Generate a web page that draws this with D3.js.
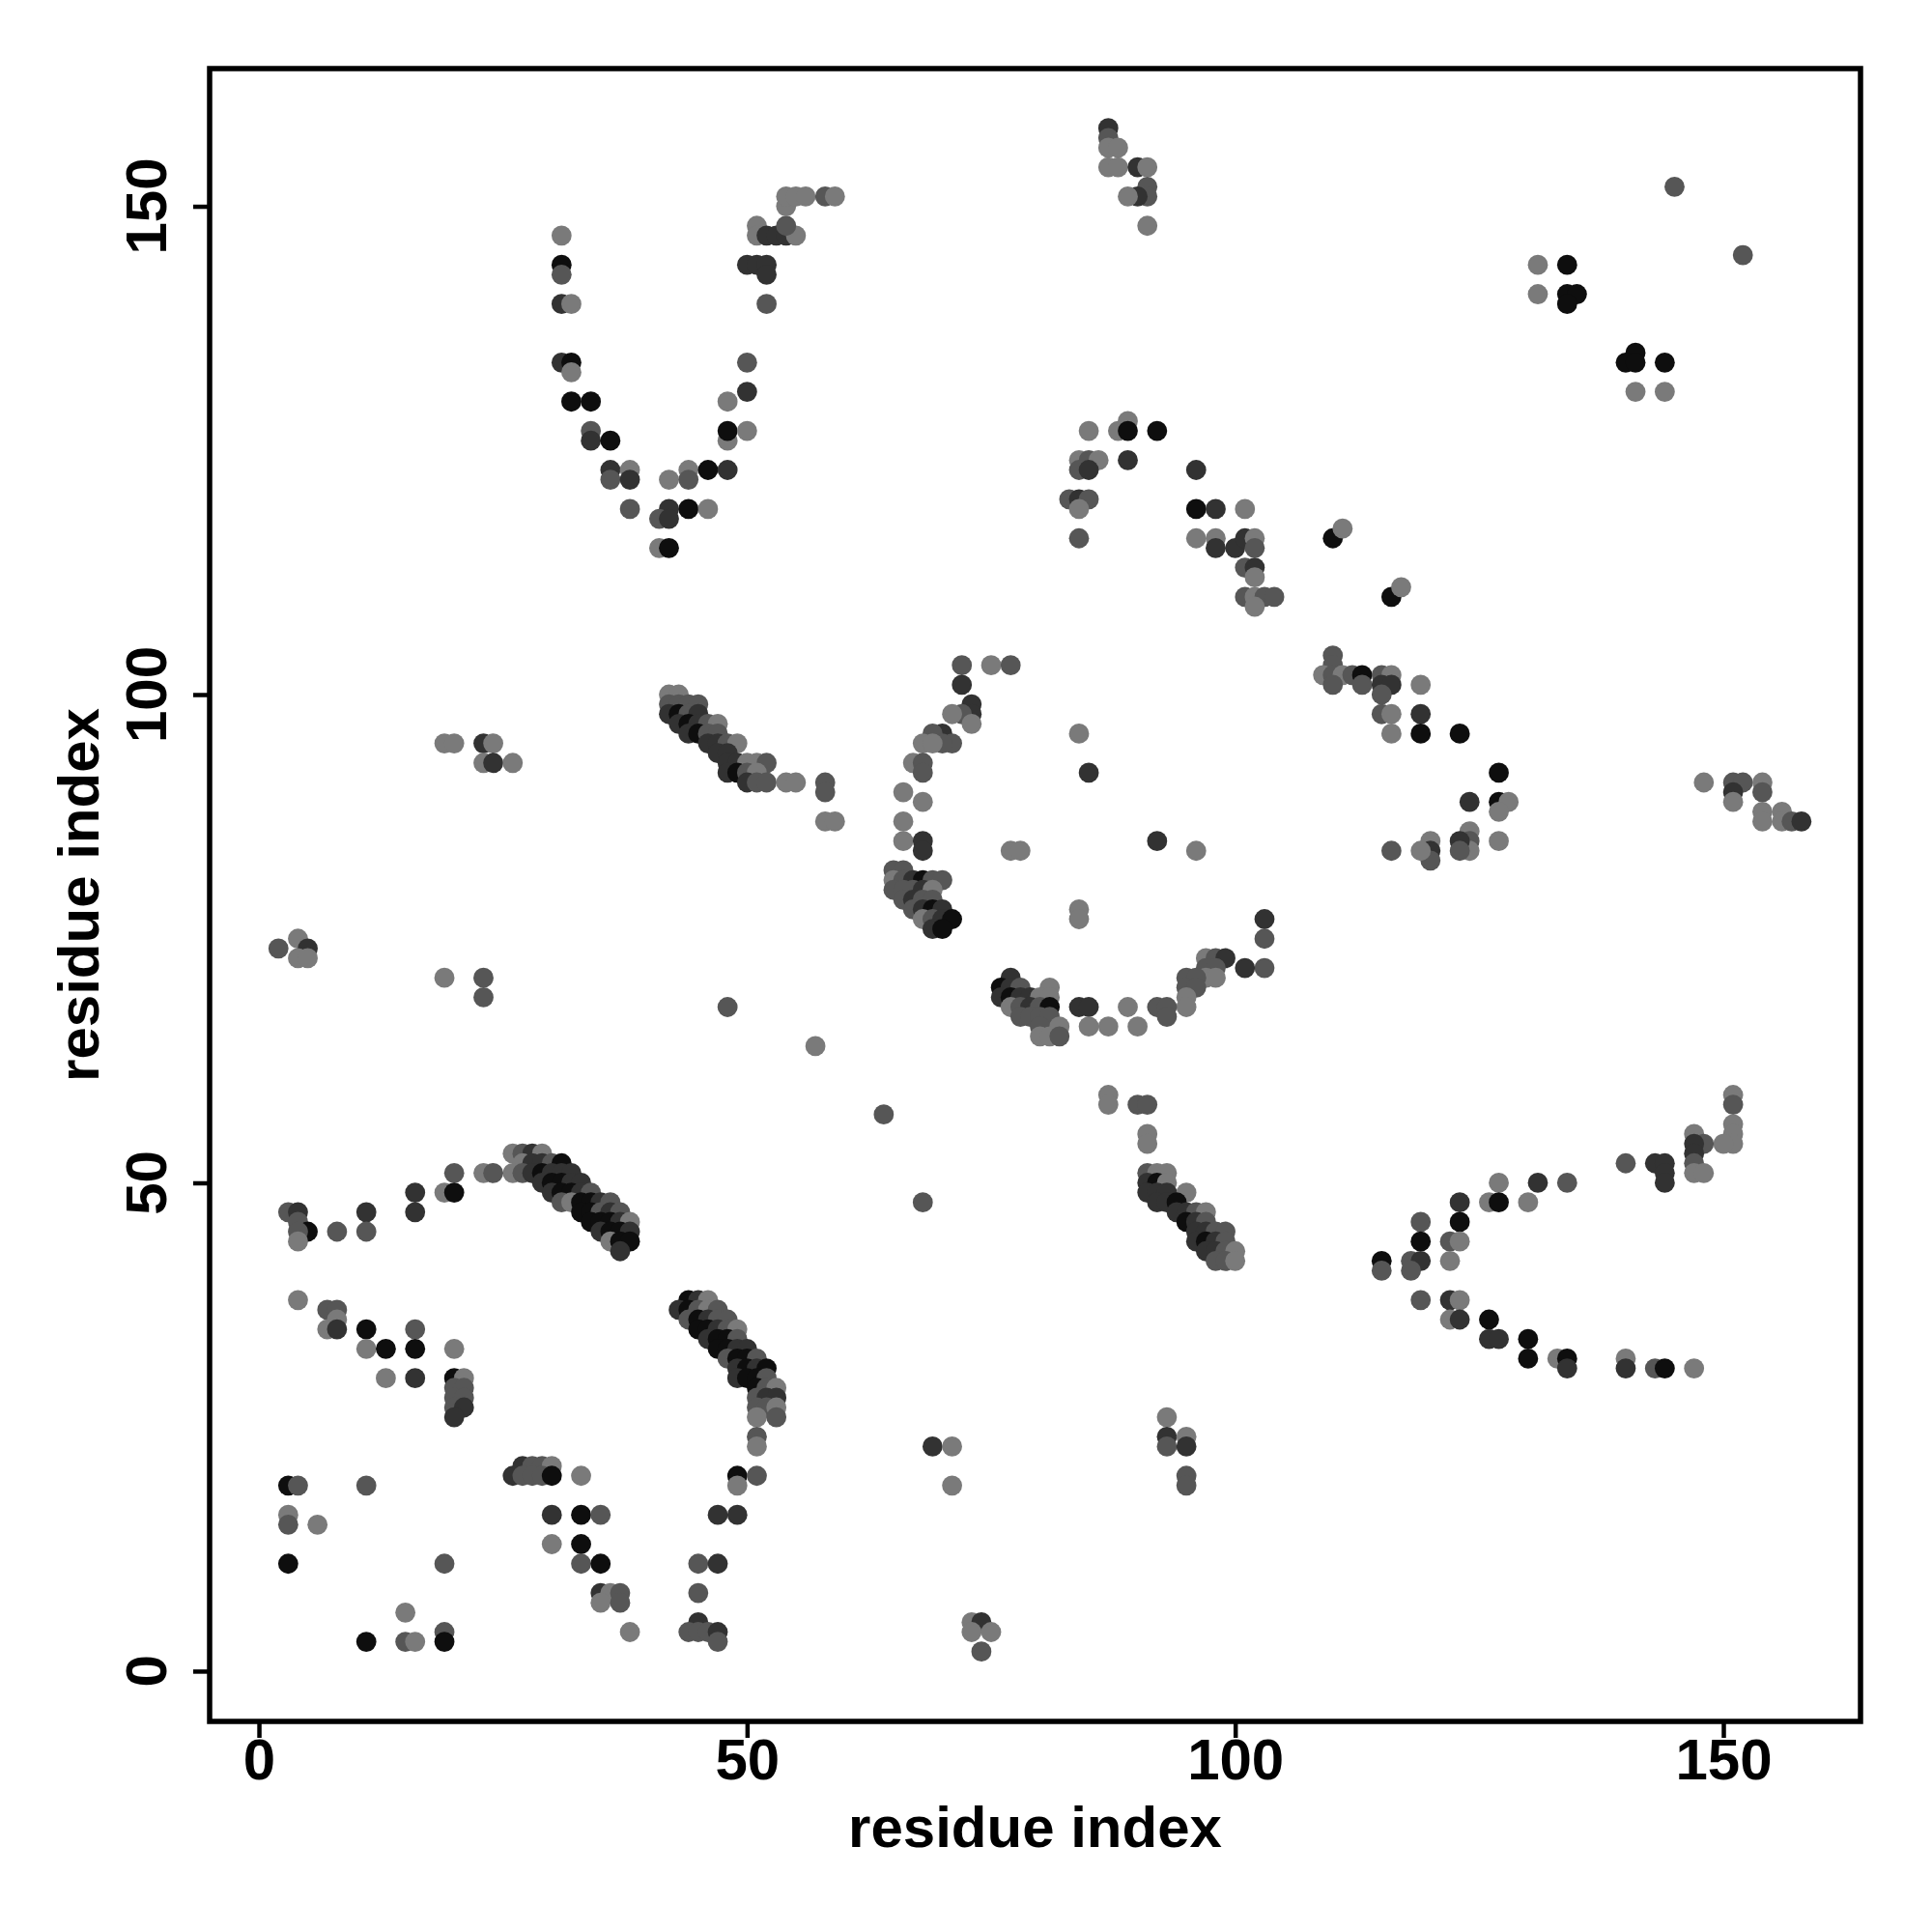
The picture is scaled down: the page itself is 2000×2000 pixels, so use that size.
<!DOCTYPE html>
<html>
<head>
<meta charset="utf-8">
<script src="https://cdn.jsdelivr.net/npm/d3@7"></script>
<style>
  html, body { margin: 0; padding: 0; background: #ffffff; }
  svg { display: block; }
</style>
</head>
<body>
<svg id="chart" width="2000" height="2000"></svg>
<script>
// ---- data: [residue i, residue j, confidence level 1 (light) .. 4 (black)] ----
const xTicks = [0, 50, 100, 150];
const yTicks = [0, 50, 100, 150];
const xTitle = "residue index";
const yTitle = "residue index";

const leftU = [
  [31,147,1],[31,144,4],[31,143,2],[31,140,3],[32,140,1],[31,134,3],[32,134,4],[32,133,1],
  [32,130,4],[34,130,4],[34,127,2],[34,126,3],[36,126,4],[36,123,3],[38,123,1],[36,122,2],
  [38,122,3],[42,122,1],[44,123,1],[44,122,2],[46,123,4],[48,123,3],[38,119,2],[42,119,3],
  [44,119,4],[46,119,1],[41,118,2],[42,118,3],[41,115,1],[42,115,4],[48,126,1],[48,127,4],
  [50,127,1],[48,130,1],[50,131,3],[50,134,2],[52,140,2],[50,144,3],[51,144,3],[52,144,3],
  [52,143,3],[51,148,1],[51,147,1],[52,147,3],[53,147,3],[54,147,3],[55,147,1],[54,148,2],
  [54,150,1],[54,151,1],[55,151,1],[56,151,1],[58,151,2],[59,151,1]
];

const topMid = [
  [87,158,3],[87,157,2],[87,156,1],[88,156,1],[87,154,1],[88,154,1],[90,154,3],[91,154,1],
  [91,152,2],[91,151,2],[90,151,3],[89,151,1],[91,148,1],
  [85,127,1],[88,127,1],[89,128,1],[89,127,4],[92,127,4],[84,124,1],[85,124,2],[86,124,1],
  [84,123,2],[85,123,3],[89,124,3],[96,123,3],[83,120,2],[84,120,3],[85,120,2],[84,119,1],
  [84,116,2],[96,119,4],[98,119,3],[101,119,1],[96,116,1],[98,116,1],[98,115,3],[100,115,3],
  [101,116,3],[102,116,1],[102,115,2],[101,113,2],[102,113,3],[102,112,1],[101,110,2],
  [102,110,1],[103,110,2],[104,110,2],[102,109,1]
];

const topRight = [
  [145,152,2],[152,145,2],[131,144,1],[134,144,4],[131,141,1],[134,141,4],[135,141,4],
  [134,140,4],[141,135,4],[140,134,4],[141,134,4],[144,134,4],[141,131,1],[144,131,1],
  [110,116,4],[111,117,1],[116,110,4],[117,111,1]
];

const rightMid = [
  [110,104,2],[110,103,2],[109,102,1],[110,102,2],[111,102,1],[112,102,2],[113,102,4],
  [110,101,2],[113,101,2],[115,102,2],[116,102,1],[115,101,3],[116,101,3],[115,100,2],
  [119,101,1],[115,98,2],[116,98,1],[119,98,3],[116,96,1],[119,96,4],[123,96,4],[127,92,4],
  [124,89,3],[127,89,4],[128,89,1],[127,88,1],[127,85,1],[124,86,1],[124,85,2],[124,84,1],
  [123,85,3],[123,84,2],[120,85,1],[120,84,3],[120,83,2],[119,84,1],[116,84,2],
  [148,91,1],[151,91,2],[152,91,2],[154,91,1],[151,90,3],[151,89,1],[154,90,2],[154,88,1],
  [154,87,1],[156,88,1],[156,87,1],[157,87,2],[158,87,3]
];

const midArcUpper = [
  [72,103,2],[75,103,1],[77,103,2],[72,101,3],[73,99,3],[73,98,3],[72,98,2],[71,98,1],
  [73,97,1],[70,96,3],[69,96,2],[71,95,2],[70,95,2],[68,95,1],[69,95,1],[67,93,1],[68,93,2],
  [68,92,2],[66,90,1],[68,89,1],[66,87,1],[66,85,1],[68,85,3],[68,84,3],[77,84,1],[78,84,1],
  [84,96,1],[85,92,3],[92,85,3],[96,84,1]
];

const midArcLeft = [
  [65,82,2],[66,82,2],[65,81,1],[66,81,2],[67,81,3],[68,81,4],[69,81,2],[70,81,2],
  [65,80,2],[66,80,2],[67,80,2],[68,80,3],[69,80,1],[66,79,2],[67,79,3],[68,79,2],[69,79,2],
  [67,78,2],[68,78,3],[69,78,4],[70,78,3],[68,77,1],[69,77,2],[70,77,3],[71,77,4],
  [69,76,3],[70,76,4]
];

const midArcLower = [
  [84,78,1],[84,77,1],[103,77,3],[103,75,2],[103,72,2],[101,72,3],[97,73,1],[98,73,2],
  [99,73,3],[97,72,2],[98,72,2],[97,71,1],[98,71,1],[95,71,2],[96,71,2],[95,70,2],[96,70,2],
  [95,69,1],[95,68,1],[92,68,2],[93,68,2],[93,67,2],[89,68,1],[90,66,1],[84,68,3],[85,68,3],
  [85,66,1],[87,66,1],
  [77,71,3],[76,70,4],[77,70,3],[78,70,2],[81,70,1],[76,69,3],[77,69,4],[78,69,3],[79,69,3],
  [80,69,1],[81,69,1],[77,68,1],[78,68,2],[79,68,3],[80,68,2],[81,68,4],[78,67,2],[79,67,2],
  [80,67,2],[81,67,2],[80,66,2],[82,66,1],[80,65,1],[81,65,1],[82,65,2]
];

const strandA = [ // 42-52 x 91-100
  [42,100,1],[43,100,1],[42,99,2],[43,99,2],[44,99,2],[45,99,2],[42,98,3],[43,98,4],[44,98,2],
  [45,98,3],[43,97,3],[44,97,4],[45,97,3],[46,97,2],[47,97,1],[44,96,3],[45,96,4],[46,96,2],
  [47,96,2],[46,95,3],[47,95,3],[48,95,2],[49,95,1],[47,94,3],[48,94,3],[48,93,3],[49,93,3],
  [50,93,1],[51,93,1],[52,93,2],[48,92,3],[49,92,4],[50,92,2],[51,92,1],[50,91,3],[51,91,2],
  [52,91,2],[54,91,1],[55,91,1],[58,91,2],[58,90,2],[58,87,1],[59,87,1]
];

const strandB = [ // 91-100 x 42-51
  [91,51,2],[92,51,1],[93,51,1],[91,50,3],[92,50,4],[93,50,1],[91,49,3],[92,49,3],[93,49,3],
  [95,49,1],[92,48,3],[93,48,3],[94,48,4],[94,47,3],[95,47,3],[96,47,2],[97,47,1],[95,46,4],
  [96,46,3],[97,46,2],[96,45,3],[97,45,3],[98,45,2],[99,45,2],[96,44,3],[97,44,4],[98,44,3],
  [99,44,2],[97,43,3],[98,43,3],[99,43,2],[100,43,1],[98,42,2],[99,42,2],[100,42,1],
  [87,59,1],[87,58,1],[90,58,2],[91,58,2],[91,55,1],[91,54,1]
];

const strandC = [ // 26-38 x 43-53
  [26,53,1],[27,53,2],[28,53,3],[29,53,1],[27,52,1],[28,52,3],[29,52,3],[30,52,2],[31,52,4],
  [26,51,1],[27,51,2],[28,51,3],[29,51,4],[30,51,3],[31,51,3],[32,51,3],
  [29,50,3],[30,50,4],[31,50,4],[32,50,3],[33,50,3],[30,49,3],[31,49,4],[32,49,4],[33,49,3],
  [34,49,2],[31,48,2],[32,48,1],[33,48,4],[34,48,4],[35,48,3],[36,48,2],[33,47,4],[34,47,4],
  [35,47,2],[36,47,3],[37,47,2],[34,46,4],[35,46,4],[36,46,4],[37,46,3],[38,46,1],[35,45,3],
  [36,45,4],[37,45,4],[38,45,3],[36,44,1],[37,44,4],[38,44,4],[37,43,3]
];

const strandD = [ // 43-53 x 26-38
  [44,38,4],[45,38,3],[46,38,1],[43,37,3],[44,37,4],[45,37,2],[46,37,1],[47,37,2],
  [44,36,2],[45,36,4],[46,36,3],[47,36,2],[48,36,2],[45,35,4],[46,35,4],[47,35,3],[48,35,2],
  [49,35,1],[46,34,3],[47,34,4],[48,34,4],[49,34,2],[47,33,4],[48,33,4],[49,33,3],[50,33,3],
  [48,32,2],[49,32,4],[50,32,4],[51,32,2],[49,31,3],[50,31,4],[51,31,3],[52,31,4],[49,30,3],
  [50,30,4],[51,30,4],[52,30,2],[51,29,4],[52,29,2],[53,29,1],[51,28,2],[52,28,3],[53,28,3],
  [51,27,2],[52,27,2],[53,27,1],[51,26,1],[53,26,2],[51,24,2],[51,23,1]
];

const rightArc = [
  [151,59,1],[151,58,2],[151,56,1],[151,55,1],[151,54,1],[150,54,1],[147,55,1],[148,54,2],
  [147,54,3],[147,53,3],[147,52,2],[147,51,1],[148,51,1],[143,52,3],[144,52,3],[144,51,3],
  [144,50,3],[140,52,2],[127,50,1],[131,50,3],[134,50,2],[123,48,3],[126,48,1],[127,48,4],
  [130,48,1],[119,46,2],[123,46,4],[119,44,4],[122,44,2],[123,44,1],[115,42,4],[115,41,2],
  [118,42,2],[119,42,3],[118,41,2],[122,42,1],[119,38,2],[122,38,3],[123,38,1],[122,36,1],
  [123,36,3],[126,36,4],[126,34,3],[127,34,3],[130,34,4],[130,32,4],[133,32,1],[134,32,4],
  [134,31,3],[140,32,1],[140,31,3],[143,31,2],[144,31,4],[147,31,1]
];

const leftScatter = [
  [2,74,2],[4,75,1],[5,74,3],[4,73,1],[5,73,1],[19,71,1],[23,71,2],[23,69,2],
  [19,95,1],[20,95,1],[23,95,3],[24,95,1],[23,93,1],[24,93,3],[26,93,1],
  [3,47,2],[4,47,3],[4,46,2],[5,45,4],[4,45,2],[4,44,1],[8,45,2],[11,47,3],[11,45,2],
  [16,49,3],[16,47,3],[20,51,2],[19,49,1],[20,49,4],[23,51,1],[24,51,2],
  [57,64,1],[64,57,2],[68,48,2],[48,68,2]
];

const lowerLeft = [
  [4,38,1],[7,37,2],[8,37,2],[8,36,1],[7,35,1],[8,35,3],[11,35,4],[16,35,2],[11,33,1],
  [13,33,4],[16,33,4],[20,33,1],[13,30,1],[16,30,3],[20,30,4],[21,30,1],[20,29,2],[21,29,2],
  [20,28,2],[21,28,2],[20,27,2],[21,27,3],[20,26,3],
  [3,19,4],[4,19,2],[11,19,2],[3,16,1],[3,15,2],[6,15,1],[3,11,4],[19,11,2],[11,3,4],
  [15,6,1],[15,3,2],[16,3,1],[19,4,2],[19,3,4],
  [26,20,3],[27,21,3],[28,21,2],[29,21,2],[30,21,1],[27,20,2],[28,20,2],[29,20,2],[30,20,4],
  [33,20,1],[30,16,3],[33,16,4],[35,16,2],[30,13,1],[33,13,4],[33,11,2],[35,11,4],[35,8,3],
  [36,8,1],[37,8,2],[35,7,1],[37,7,2],[38,4,1],
  [45,8,2],[45,5,3],[44,4,2],[45,4,2],[46,4,2],[47,4,3],[47,3,2],[45,11,2],[47,11,3],
  [47,16,3],[49,16,3],[49,20,4],[49,19,1],[51,20,2]
];

const lowerMid = [
  [69,23,3],[71,23,1],[71,19,1],[73,5,1],[74,5,3],[73,4,1],[75,4,1],[74,2,2],
  [93,26,1],[93,24,3],[93,23,2],[95,24,1],[95,23,3],[95,20,2],[95,19,2]
];

// ---- drawing ----
const svg = d3.select("#chart");
svg.append("rect").attr("width", 2000).attr("height", 2000).attr("fill", "#ffffff");

const frame = { left: 217, right: 1926, top: 71, bottom: 1782 };
const x = d3.scaleLinear().domain([-5.05, 164.05]).range([frame.left, frame.right]);
const y = d3.scaleLinear().domain([-5.15, 164.1]).range([frame.bottom, frame.top]);
const shade = d3.scaleLinear().domain([1, 4]).range(["#7a7a7a", "#0e0e0e"]);

const allPoints = [].concat(leftU, topMid, topRight, rightMid, midArcUpper, midArcLeft,
  midArcLower, strandA, strandB, strandC, strandD, rightArc, leftScatter, lowerLeft, lowerMid);

svg.append("g").selectAll("circle").data(allPoints).join("circle")
  .attr("cx", d => x(d[0]))
  .attr("cy", d => y(d[1]))
  .attr("r", 10.4)
  .attr("fill", d => shade(d[2]));

const font = "'Liberation Sans', Arial, Helvetica, sans-serif";
const fs = 60;

// x axis
const xAxis = svg.append("g").attr("transform", `translate(0,${frame.bottom})`)
  .call(d3.axisBottom(x).tickValues(xTicks).tickSize(17).tickPadding(0).tickFormat(d3.format("d")));
xAxis.select(".domain").remove();
xAxis.selectAll(".tick line").attr("stroke", "#000").attr("stroke-width", 4.5);
xAxis.selectAll(".tick text").attr("font-family", font).attr("font-weight", "bold")
  .attr("font-size", fs).attr("fill", "#000");

// y axis (ticks only, rotated labels)
const yAxis = svg.append("g").attr("transform", `translate(${frame.left},0)`)
  .call(d3.axisLeft(y).tickValues(yTicks).tickSize(17).tickFormat(""));
yAxis.select(".domain").remove();
yAxis.selectAll(".tick line").attr("stroke", "#000").attr("stroke-width", 4.5);

svg.append("g").selectAll("text").data(yTicks).join("text")
  .attr("transform", d => `translate(172,${y(d)}) rotate(-90)`)
  .attr("text-anchor", "middle")
  .attr("font-family", font).attr("font-weight", "bold").attr("font-size", fs)
  .attr("fill", "#000")
  .text(d => d);

// frame
svg.append("rect")
  .attr("x", frame.left).attr("y", frame.top)
  .attr("width", frame.right - frame.left).attr("height", frame.bottom - frame.top)
  .attr("fill", "none").attr("stroke", "#000").attr("stroke-width", 5.5);

// titles
svg.append("text")
  .attr("x", (frame.left + frame.right) / 2).attr("y", 1912)
  .attr("text-anchor", "middle")
  .attr("font-family", font).attr("font-weight", "bold").attr("font-size", fs)
  .attr("fill", "#000").text(xTitle);

svg.append("text")
  .attr("transform", `translate(102,${(frame.top + frame.bottom) / 2}) rotate(-90)`)
  .attr("text-anchor", "middle")
  .attr("font-family", font).attr("font-weight", "bold").attr("font-size", fs)
  .attr("fill", "#000").text(yTitle);
</script>
</body>
</html>
